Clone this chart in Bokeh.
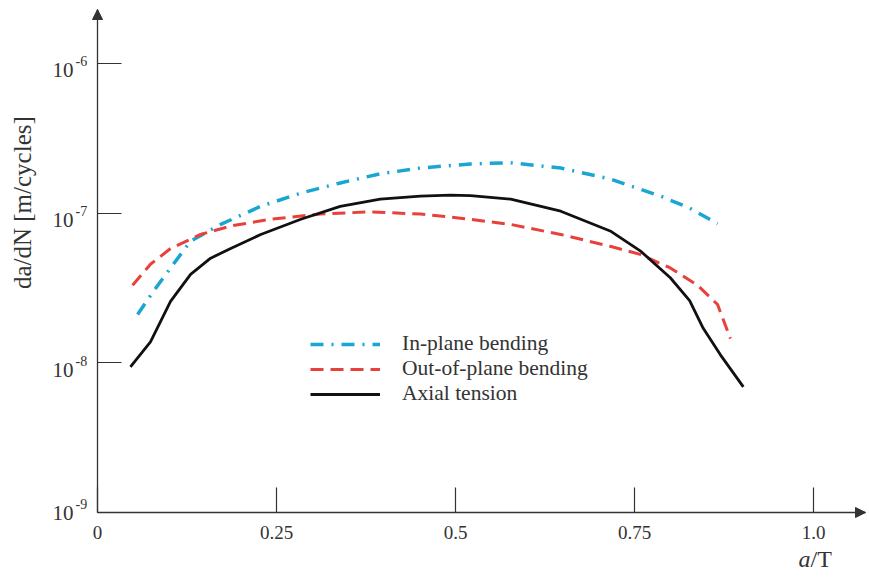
import math
from bokeh.plotting import figure
from bokeh.models import (Range1d, FixedTicker, Label, Arrow, NormalHead,
                          Legend, LegendItem)
from bokeh.embed import file_html
from bokeh.resources import INLINE

# ---------------- data ----------------
series_names = ["In-plane bending", "Out-of-plane bending", "Axial tension"]

inplane_x = [0.056, 0.078, 0.102, 0.130, 0.172, 0.228, 0.284, 0.339, 0.395,
             0.451, 0.521, 0.577, 0.647, 0.716, 0.786, 0.827, 0.866]
inplane_y = [2.1e-8, 3.0e-8, 4.3e-8, 6.5e-8, 8.4e-8, 1.11e-7, 1.36e-7, 1.59e-7,
             1.83e-7, 2.0e-7, 2.13e-7, 2.17e-7, 2.0e-7, 1.69e-7, 1.30e-7,
             1.08e-7, 8.5e-8]

outplane_x = [0.049, 0.074, 0.102, 0.144, 0.186, 0.242, 0.311, 0.381, 0.451,
              0.507, 0.577, 0.647, 0.716, 0.758, 0.800, 0.838, 0.866, 0.884]
outplane_y = [3.3e-8, 4.55e-8, 5.8e-8, 7.2e-8, 8.2e-8, 9.1e-8, 9.85e-8, 1.02e-7,
              9.85e-8, 9.25e-8, 8.4e-8, 7.2e-8, 6.0e-8, 5.3e-8, 4.3e-8, 3.3e-8,
              2.45e-8, 1.45e-8]

axial_x = [0.046, 0.074, 0.102, 0.130, 0.158, 0.186, 0.228, 0.284, 0.339, 0.395,
           0.451, 0.493, 0.521, 0.577, 0.647, 0.716, 0.758, 0.800, 0.827, 0.846,
           0.870, 0.902]
axial_y = [9.4e-9, 1.38e-8, 2.57e-8, 3.9e-8, 5.0e-8, 5.8e-8, 7.2e-8, 9.1e-8,
           1.11e-7, 1.24e-7, 1.30e-7, 1.32e-7, 1.31e-7, 1.24e-7, 1.03e-7, 7.6e-8,
           5.6e-8, 3.7e-8, 2.6e-8, 1.7e-8, 1.13e-8, 6.9e-9]

x_ticks = [0.0, 0.25, 0.5, 0.75, 1.0]
x_tick_labels = ["0", "0.25", "0.5", "0.75", "1.0"]
y_ticks = [1e-9, 1e-8, 1e-7, 1e-6]
y_tick_bases = ["10", "10", "10", "10"]
y_tick_exponents = ["-9", "-8", "-7", "-6"]
y_axis_title = "da/dN  [m/cycles]"
x_axis_title_italic = "a"
x_axis_title_rest = "/T"

# ---------------- layout (pixel geometry of the frame) ----------------
W, H = 867, 574
X0_PX = 97.0          # pixel column of a/T = 0
Y0_PX = 512.0         # pixel row of 1e-9
PX_PER_UNIT = 716.0
PX_PER_DECADE = 149.7


def xd(px):
    return (px - X0_PX) / PX_PER_UNIT


def yd(py):
    return 10 ** (-9 + (Y0_PX - py) / PX_PER_DECADE)


x_lo, x_hi = xd(0), xd(W)
y_lo, y_hi = yd(H), yd(0)
y_min = 1e-9
x_axis_end = xd(865)
y_axis_end = yd(9)

FONT = "Liberation Serif"
TXT = "#333333"
AX = "#333333"
CYAN = "#1aa6d2"
RED = "#e8413c"
BLACK = "#111111"

p = figure(width=W, height=H, x_range=Range1d(x_lo, x_hi),
           y_range=Range1d(y_lo, y_hi), y_axis_type="log",
           output_backend="svg", toolbar_location=None,
           min_border=0, min_border_left=0, min_border_right=0,
           min_border_top=0, min_border_bottom=0)
p.grid.visible = False
p.outline_line_color = None
p.background_fill_color = "white"
p.border_fill_color = "white"

# x axis (drawn at y = 1e-9)
xa = p.xaxis[0]
xa.fixed_location = y_min
xa.bounds = (0, x_axis_end)
xa.ticker = FixedTicker(ticks=x_ticks)
xa.major_label_overrides = dict(zip(x_ticks, x_tick_labels))
xa.major_tick_in = 25
xa.major_tick_out = 0
xa.minor_tick_line_color = None
xa.axis_line_color = AX
xa.axis_line_width = 1.3
xa.major_tick_line_color = AX
xa.major_tick_line_width = 1.2
xa.major_label_text_font = FONT
xa.major_label_text_font_size = "19px"
xa.major_label_text_color = TXT
xa.major_label_standoff = 13

# y axis (drawn at a/T = 0)
ya = p.yaxis[0]
ya.fixed_location = 0
ya.bounds = (y_min, y_axis_end)
ya.ticker = FixedTicker(ticks=y_ticks)
ya.major_label_overrides = {t: "" for t in y_ticks}
ya.major_tick_in = 24
ya.major_tick_out = 0
ya.minor_tick_line_color = None
ya.axis_line_color = AX
ya.axis_line_width = 1.3
ya.major_tick_line_color = AX
ya.major_tick_line_width = 1.2

# y tick labels (10 with superscript exponent)
for t, b, e in zip(y_ticks, y_tick_bases, y_tick_exponents):
    lift = 7 if t == y_min else 0   # the lowest label sits a little higher
    p.add_layout(Label(x=0, y=t, x_offset=-24, y_offset=-7 + lift, text=b,
                       text_align="right", text_baseline="alphabetic",
                       text_font=FONT, text_font_size="21px", text_color=TXT))
    p.add_layout(Label(x=0, y=t, x_offset=-22, y_offset=2 + lift, text=e,
                       text_align="left", text_baseline="alphabetic",
                       text_font=FONT, text_font_size="14px", text_color=TXT))

# axis titles
p.add_layout(Label(x=xd(22), y=yd(199), text=y_axis_title, angle=math.pi / 2,
                   text_align="center", text_baseline="middle",
                   text_font=FONT, text_font_size="25px", text_color=TXT))
p.add_layout(Label(x=xd(798), y=y_min, y_offset=-46, text=x_axis_title_italic,
                   text_align="left", text_baseline="alphabetic",
                   text_font=FONT, text_font_style="italic",
                   text_font_size="24px", text_color=TXT))
p.add_layout(Label(x=xd(810), y=y_min, y_offset=-46, text=x_axis_title_rest,
                   text_align="left", text_baseline="alphabetic",
                   text_font=FONT, text_font_size="24px", text_color=TXT))

# arrow heads at the ends of both axes
p.add_layout(Arrow(end=NormalHead(size=10, fill_color=AX, line_color=AX, line_width=1),
                   x_start=0, y_start=1e-6, x_end=0, y_end=y_axis_end, line_alpha=0))
p.add_layout(Arrow(end=NormalHead(size=10, fill_color=AX, line_color=AX, line_width=1),
                   x_start=0.9, y_start=y_min, x_end=x_axis_end, y_end=y_min,
                   line_alpha=0))

# curves
r1 = p.line(inplane_x, inplane_y, line_color=CYAN, line_width=3.5,
            line_dash="13 8 2 8")
r2 = p.line(outplane_x, outplane_y, line_color=RED, line_width=3,
            line_dash="13 7")
r3 = p.line(axial_x, axial_y, line_color=BLACK, line_width=2.8)

legend = Legend(items=[LegendItem(label=n, renderers=[r])
                       for n, r in zip(series_names, [r1, r2, r3])],
                location=(310, 168), orientation="vertical",
                label_text_font=FONT, label_text_font_size="21.5px",
                label_text_color=TXT, label_standoff=22, glyph_width=70,
                glyph_height=20, label_height=20, spacing=0, padding=0,
                margin=0, border_line_color=None, background_fill_alpha=0)
p.add_layout(legend)

open("out.html", "w").write(file_html(p, INLINE))
